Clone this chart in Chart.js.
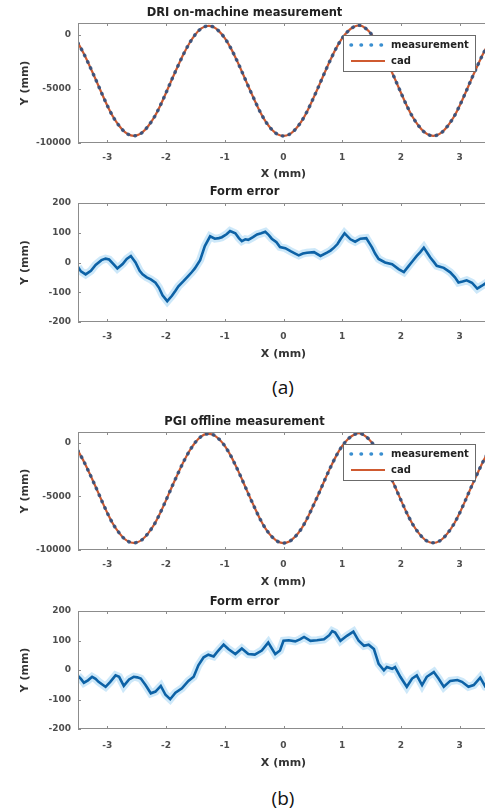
<!DOCTYPE html>
<html lang="en">
<head>
<meta charset="UTF-8">
<title>DRI vs PGI form error</title>
<script src="https://cdn.jsdelivr.net/npm/chart.js"></script>
<style>
    html, body { margin: 0; padding: 0; background: #fff; }
    body { width: 485px; height: 809px; overflow: hidden; position: relative; }
    canvas { position: absolute; left: 0; }
    .cap {
        position: absolute; left: 233px; width: 100px; text-align: center;
        font-family: 'Open Sans', sans-serif; font-size: 19px; line-height: 20px; color: #111;
    }
</style>
</head>
<body>
<canvas id="c1" width="495" height="182" style="top:0"></canvas>
<canvas id="c2" width="495" height="180" style="top:182px"></canvas>
<div class="cap" style="top:377px">(a)</div>
<canvas id="c3" width="495" height="190" style="top:400px"></canvas>
<canvas id="c4" width="495" height="181" style="top:590px"></canvas>
<div class="cap" style="top:788px">(b)</div>

<script>
// x positions (mm) of the profile samples
const xSine = [
    -3.5, -3.4, -3.3, -3.2, -3.1, -3.0, -2.9, -2.8, -2.7, -2.6,
    -2.5, -2.4, -2.3, -2.2, -2.1, -2.0, -1.9, -1.8, -1.7, -1.6,
    -1.5, -1.4, -1.3, -1.2, -1.1, -1.0, -0.9, -0.8, -0.7, -0.6,
    -0.5, -0.4, -0.3, -0.2, -0.1, 0,
    0.1, 0.2, 0.3, 0.4, 0.5, 0.6, 0.7, 0.8, 0.9, 1.0,
    1.1, 1.2, 1.3, 1.4, 1.5, 1.6, 1.7, 1.8, 1.9, 2.0,
    2.1, 2.2, 2.3, 2.4, 2.5, 2.6, 2.7, 2.8, 2.9, 3.0,
    3.1, 3.2, 3.3, 3.4, 3.5
];
// cad profile heights
const cadY = [
    -750, -1750, -2900, -4100, -5350, -6550, -7600, -8400, -9000, -9300,
    -9300, -9000, -8400, -7600, -6550, -5350, -4100, -2900, -1750, -750,
    50, 600, 820, 750, 350, -300, -1200, -2300, -3500, -4750,
    -5950, -7100, -8050, -8750, -9200, -9350,
    -9200, -8750, -8050, -7100, -5950, -4750, -3500, -2300, -1200, -300,
    350, 750, 880, 600, 50, -750, -1750, -2900, -4100, -5350,
    -6550, -7600, -8400, -9000, -9300, -9300, -9000, -8400, -7600, -6550,
    -5350, -4100, -2900, -1750, -750
];
// measured profile overlays the cad at this scale
const measY = cadY;

// form error, DRI on-machine
const errAX = [
    -3.5, -3.45, -3.37, -3.28, -3.2, -3.1, -3.03, -2.97, -2.9, -2.83,
    -2.74, -2.67, -2.6, -2.52, -2.45, -2.4, -2.33, -2.26, -2.18, -2.12,
    -2.06, -1.98, -1.9, -1.84, -1.79, -1.7, -1.62, -1.56, -1.51, -1.42,
    -1.34, -1.25, -1.17, -1.1, -1.05, -0.97, -0.91, -0.82, -0.76, -0.71,
    -0.65, -0.6, -0.52, -0.45, -0.38, -0.31, -0.25, -0.2, -0.12, -0.06,
    0.03, 0.12, 0.2, 0.26, 0.33, 0.4, 0.52, 0.63, 0.74, 0.8,
    0.86, 0.92, 0.97, 1.04, 1.14, 1.22, 1.31, 1.41, 1.46, 1.51,
    1.56, 1.62, 1.73, 1.85, 1.96, 2.05, 2.13, 2.2, 2.27, 2.33,
    2.39, 2.45, 2.5, 2.56, 2.61, 2.73, 2.84, 2.92, 2.98, 3.05,
    3.12, 3.21, 3.3, 3.38, 3.44, 3.5
];
const errAY = [
    -15, -30, -40, -28, -8, 8, 13, 10, -5, -20,
    -5, 12, 22, 0, -28, -40, -50, -57, -68, -85,
    -110, -130, -112, -95, -80, -62, -45, -32, -20, 8,
    55, 88, 80, 82, 85, 95, 106, 98, 82, 72,
    78, 76, 85, 94, 98, 103, 92, 80, 68, 52,
    48, 38, 30, 24, 30, 33, 35, 22, 33, 40,
    50, 62, 78, 98, 78, 70, 80, 82, 66, 50,
    30, 12, 0, -6, -22, -32, -12, 5, 22, 35,
    50, 32, 17, 2, -11, -18, -33, -50, -67, -64,
    -60, -68, -88, -78, -70, -85
];

// form error, PGI offline
const errBX = [
    -3.5, -3.45, -3.4, -3.33, -3.26, -3.2, -3.15, -3.08, -3.03, -2.95,
    -2.86, -2.8, -2.72, -2.63, -2.55, -2.49, -2.43, -2.35, -2.26, -2.18,
    -2.09, -2.01, -1.93, -1.84, -1.73, -1.62, -1.53, -1.45, -1.36, -1.28,
    -1.19, -1.11, -1.02, -0.94, -0.82, -0.71, -0.6, -0.49, -0.37, -0.26,
    -0.14, -0.06, 0, 0.09, 0.2, 0.28, 0.35, 0.46, 0.57, 0.69,
    0.78, 0.83, 0.88, 0.97, 1.08, 1.19, 1.28, 1.37, 1.45, 1.54,
    1.62, 1.71, 1.76, 1.85, 1.9, 1.99, 2.1, 2.19, 2.27, 2.36,
    2.44, 2.56, 2.64, 2.73, 2.84, 2.96, 3.04, 3.15, 3.24, 3.35,
    3.44, 3.5
];
const errBY = [
    -20, -30, -43, -35, -23, -30, -40, -50, -57, -40,
    -18, -23, -54, -32, -23, -25, -29, -51, -79, -73,
    -54, -84, -99, -77, -62, -37, -23, 16, 43, 52,
    46, 66, 86, 71, 54, 73, 54, 52, 66, 93,
    54, 66, 99, 101, 97, 104, 112, 99, 101, 104,
    118, 132, 127, 99, 116, 130, 99, 82, 86, 71,
    21, -1, 10, 4, 10, -23, -57, -29, -18, -51,
    -23, -7, -29, -57, -37, -34, -40, -57, -51, -26,
    -57, -60
];

const xTicks = [-3, -2, -1, 0, 1, 2, 3];
const yTicksProfile = [-10000, -5000, 0];
const yTicksError = [-200, -100, 0, 100, 200];

const FONT = 'DejaVu Sans';

function pts(xs, ys) {
    return xs.map((x, i) => ({ x: x, y: ys[i] }));
}

// matlab-style box with inward tick marks
const boxTicks = {
    id: 'boxTicks',
    afterDraw(chart) {
        const { ctx, chartArea: a } = chart;
        const sx = chart.scales.x, sy = chart.scales.y;
        ctx.save();
        ctx.strokeStyle = '#8c8c8c';
        ctx.lineWidth = 1;
        ctx.strokeRect(a.left + 0.5, a.top + 0.5, a.right - a.left - 1, a.bottom - a.top - 1);
        ctx.beginPath();
        sx.ticks.forEach(t => {
            const px = Math.round(sx.getPixelForValue(t.value)) + 0.5;
            ctx.moveTo(px, a.top); ctx.lineTo(px, a.top + 3);
            ctx.moveTo(px, a.bottom); ctx.lineTo(px, a.bottom - 3);
        });
        sy.ticks.forEach(t => {
            const py = Math.round(sy.getPixelForValue(t.value)) + 0.5;
            ctx.moveTo(a.left, py); ctx.lineTo(a.left + 3, py);
            ctx.moveTo(a.right, py); ctx.lineTo(a.right - 3, py);
        });
        ctx.stroke();
        ctx.restore();
    }
};

// boxed legend inside the plot, top right
const boxLegend = {
    id: 'boxLegend',
    afterDraw(chart) {
        const { ctx, chartArea: a } = chart;
        const left = a.right - 146, top = a.top + 12, w = 132, h = 36;
        ctx.save();
        ctx.fillStyle = '#fff';
        ctx.fillRect(left, top, w, h);
        ctx.strokeStyle = '#6b6b6b';
        ctx.lineWidth = 1;
        ctx.strokeRect(left + 0.5, top + 0.5, w, h);
        chart.data.datasets.forEach((ds, i) => {
            const yy = top + 10 + i * 16;
            ctx.beginPath();
            // legend sample uses wider dot spacing, like the original
            ctx.setLineDash(ds.borderDash ? [0.5, 9.5] : []);
            ctx.lineCap = ds.borderCapStyle || 'butt';
            ctx.strokeStyle = ds.borderDash ? '#3a8fd0' : ds.borderColor;
            ctx.lineWidth = ds.borderWidth;
            ctx.moveTo(left + 8, yy);
            ctx.lineTo(left + 42, yy);
            ctx.stroke();
            ctx.setLineDash([]);
            ctx.fillStyle = '#222';
            ctx.font = 'bold 10px "' + FONT + '"';
            ctx.textBaseline = 'middle';
            ctx.fillText(ds.label, left + 48, yy);
        });
        ctx.restore();
    }
};

function makeChart(id, c) {
    return new Chart(document.getElementById(id), {
        type: 'line',
        data: { datasets: c.datasets },
        options: {
            responsive: false,
            animation: false,
            layout: { padding: { left: 0, right: 6, top: 0, bottom: 0 } },
            elements: { point: { radius: 0 } },
            plugins: {
                legend: { display: false },
                tooltip: { enabled: false },
                title: {
                    display: true, text: c.title, color: '#222',
                    font: { family: FONT, size: 11.5, weight: 'bold', lineHeight: 1.2 },
                    padding: { top: c.titlePad[0], bottom: c.titlePad[1] }
                }
            },
            scales: {
                x: {
                    type: 'linear', min: -3.5, max: 3.5,
                    afterFit: s => { s.height = c.xHeight; },
                    afterBuildTicks: s => { s.ticks = xTicks.map(v => ({ value: v })); },
                    grid: { display: false, drawTicks: false },
                    border: { display: false },
                    ticks: {
                        padding: c.xPad, color: '#4d4d4d', maxRotation: 0, autoSkip: false,
                        font: { family: FONT, size: 9, weight: 'bold', lineHeight: 1.2 },
                        callback: v => String(v)
                    },
                    title: {
                        display: true, text: 'X (mm)', color: '#333',
                        font: { family: FONT, size: 11, weight: 'bold', lineHeight: 1.2 },
                        padding: { top: 0, bottom: 1.5 }
                    }
                },
                y: {
                    type: 'linear', min: c.yMin, max: c.yMax,
                    afterFit: s => { s.width = 78; },
                    afterBuildTicks: s => { s.ticks = c.yTicks.map(v => ({ value: v })); },
                    grid: { display: false, drawTicks: false },
                    border: { display: false },
                    ticks: {
                        padding: 7, color: '#4d4d4d',
                        font: { family: FONT, size: 9, weight: 'bold', lineHeight: 1.2 },
                        callback: v => String(v)
                    },
                    title: {
                        display: true, text: 'Y (mm)', color: '#333',
                        font: { family: FONT, size: 11, weight: 'bold', lineHeight: 1.2 },
                        padding: { top: 18.5, bottom: 0 }
                    }
                }
            }
        },
        plugins: c.legend ? [boxTicks, boxLegend] : [boxTicks]
    });
}

function profileSets() {
    return [
        {
            label: 'measurement', data: pts(xSine, measY),
            borderColor: 'rgba(40,80,130,0.85)', borderWidth: 3.5, borderDash: [0.5, 6.5],
            borderCapStyle: 'round', tension: 0.3, fill: false
        },
        {
            label: 'cad', data: pts(xSine, cadY),
            borderColor: '#cf5a30', borderWidth: 2.2, tension: 0.3, fill: false
        }
    ];
}

function errorSets(xs, ys) {
    return [
        { label: 'error', data: pts(xs, ys), borderColor: '#0d62a6', borderWidth: 2.6, tension: 0, fill: false },
        { label: 'band', data: pts(xs, ys), borderColor: 'rgba(90,180,235,0.3)', borderWidth: 8, tension: 0, fill: false }
    ];
}

makeChart('c1', {
    title: 'DRI on-machine measurement', titlePad: [6, 3.2],
    datasets: profileSets(), legend: true,
    yMin: -10000, yMax: 1100, yTicks: yTicksProfile, xHeight: 39, xPad: 9
});
makeChart('c2', {
    title: 'Form error', titlePad: [3, 4.2],
    datasets: errorSets(errAX, errAY), legend: false,
    yMin: -200, yMax: 200, yTicks: yTicksError, xHeight: 40, xPad: 9.5
});
makeChart('c3', {
    title: 'PGI offline measurement', titlePad: [15, 3.2],
    datasets: profileSets(), legend: true,
    yMin: -10000, yMax: 1000, yTicks: yTicksProfile, xHeight: 40, xPad: 9
});
makeChart('c4', {
    title: 'Form error', titlePad: [5, 2.2],
    datasets: errorSets(errBX, errBY), legend: false,
    yMin: -200, yMax: 200, yTicks: yTicksError, xHeight: 42, xPad: 11
});
</script>
</body>
</html>
